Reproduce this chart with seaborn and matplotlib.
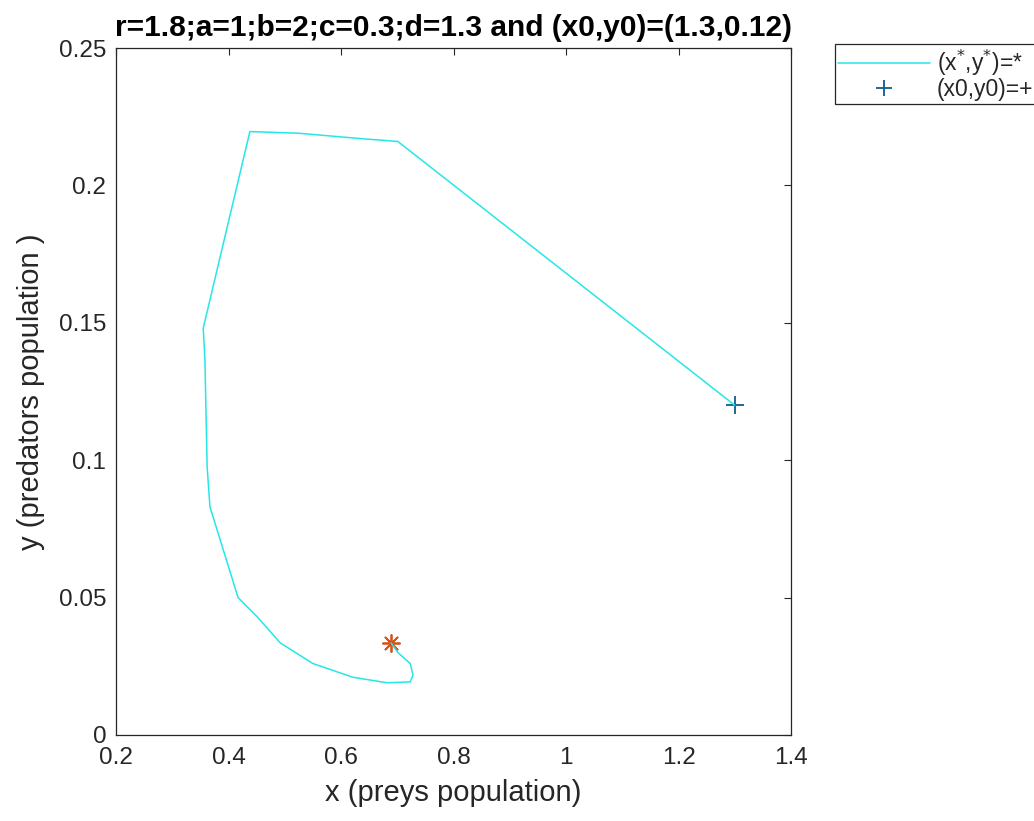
import matplotlib
matplotlib.use("Agg")
import matplotlib.pyplot as plt
import seaborn as sns
from matplotlib.lines import Line2D

# trajectory (x = preys, y = predators)
traj_x = [1.300, 0.701, 0.637, 0.524, 0.438, 0.355, 0.358, 0.362, 0.367,
          0.417, 0.451, 0.492, 0.550, 0.621, 0.682, 0.723, 0.728, 0.723,
          0.701, 0.689]
traj_y = [0.120, 0.216, 0.217, 0.219, 0.2196, 0.148, 0.137, 0.0975, 0.083,
          0.050, 0.043, 0.0335, 0.026, 0.021, 0.019, 0.0193, 0.0218, 0.026,
          0.030, 0.0335]
start_x = [1.3]
start_y = [0.12]
eq_x = [0.689]
eq_y = [0.0335]

x_ticks = [0.2, 0.4, 0.6, 0.8, 1.0, 1.2, 1.4]
x_tick_labels = ["0.2", "0.4", "0.6", "0.8", "1", "1.2", "1.4"]
y_ticks = [0, 0.05, 0.1, 0.15, 0.2, 0.25]
y_tick_labels = ["0", "0.05", "0.1", "0.15", "0.2", "0.25"]

sns.set_style("white")
plt.rcParams['font.family'] = ['Liberation Sans', 'DejaVu Sans']

fig = plt.figure(figsize=(10.34, 8.21), dpi=100)
ax = fig.add_axes([0.1122, 0.1048, 0.6528, 0.8367])

line_c = (0.15, 0.9, 0.9)
blue = (0.05, 0.36, 0.56)
orange = (0.85, 0.325, 0.098)

sns.lineplot(x=traj_x, y=traj_y, sort=False, estimator=None, color=line_c,
             linewidth=1.1, ax=ax)
sns.scatterplot(x=start_x, y=start_y, marker='+', color=blue, s=150,
                linewidth=1.3, ax=ax)
sns.scatterplot(x=eq_x, y=eq_y, marker=(8, 2, 0), color=orange,
                edgecolor=orange, s=150, linewidth=1.3, ax=ax)

ax.set_xlim(0.2, 1.4)
ax.set_ylim(0, 0.25)
ax.set_xticks(x_ticks)
ax.set_xticklabels(x_tick_labels)
ax.set_yticks(y_ticks)
ax.set_yticklabels(y_tick_labels)

gray = (0.15, 0.15, 0.15)
ax.tick_params(direction='in', length=5, width=0.8, colors=gray,
               labelsize=17.5, top=True, right=True)
ax.tick_params(axis='x', pad=9)
ax.tick_params(axis='y', pad=7)
for sp in ax.spines.values():
    sp.set_visible(True)
    sp.set_color(gray)
    sp.set_linewidth(0.9)

ax.set_xlabel("x (preys population)", fontsize=21, color=gray, labelpad=7)
ax.set_ylabel("y (predators population )", fontsize=21, color=gray, labelpad=10)
ax.set_title("r=1.8;a=1;b=2;c=0.3;d=1.3 and (x0,y0)=(1.3,0.12)",
             fontsize=21.5, fontweight='bold', color='black', pad=9)

handles = [Line2D([], [], color=line_c, linewidth=1.1),
           Line2D([], [], color=blue, marker='+', linestyle='None',
                  markersize=11, markeredgewidth=1.3)]
labels = ["(x$^{*}$,y$^{*}$)=*", "(x0,y0)=+"]
leg = fig.legend(handles, labels, loc='upper left',
                 bbox_to_anchor=(0.8075, 0.946), fontsize=16.5,
                 frameon=True, fancybox=False, framealpha=1,
                 edgecolor=gray, handlelength=4.0, borderpad=0.15,
                 labelspacing=0.0, handletextpad=0.3, borderaxespad=0)
leg.get_frame().set_linewidth(0.9)

fig.savefig("out.png", dpi=100)
